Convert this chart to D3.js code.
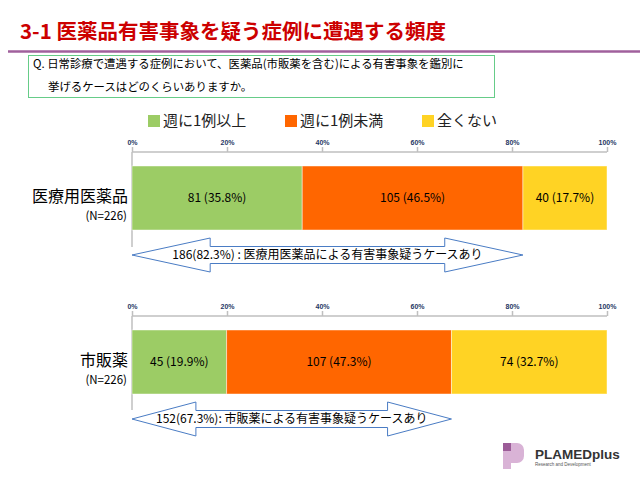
<!DOCTYPE html>
<html><head><meta charset="utf-8">
<script src="https://cdn.jsdelivr.net/npm/d3@7"></script>
<style>
html,body{margin:0;padding:0;background:#fff;}
svg{display:block;font-family:"Noto Sans CJK JP","Noto Sans",sans-serif;}
</style></head>
<body>
<svg id="chart" width="640" height="480"></svg>
<script>
const title = "3-1 医薬品有害事象を疑う症例に遭遇する頻度";
const questionLines = ["Q. 日常診療で遭遇する症例において、医薬品(市販薬を含む)による有害事象を鑑別に", "挙げるケースはどのくらいありますか。"];
const categories = ["週に1例以上", "週に1例未満", "全くない"];
const colors = ["#9ccc65", "#ff6600", "#ffd324"];
const groups = ["医療用医薬品", "市販薬"];
const groupN = ["(N=226)", "(N=226)"];
const seriesA = [81, 105, 40];   // 医療用医薬品
const seriesB = [45, 107, 74];   // 市販薬
const arrowLabels = ["186(82.3%) : 医療用医薬品による有害事象疑うケースあり", "152(67.3%): 市販薬による有害事象疑うケースあり"];
const tickLabels = ["0%", "20%", "40%", "60%", "80%", "100%"];

const svg = d3.select("#chart");

// Title
svg.append("text").attr("x", 20).attr("y", 39).attr("fill", "#cc0000")
  .attr("font-size", 20.5).attr("font-weight", "bold").text(title);
svg.append("line").attr("x1", 8).attr("x2", 640).attr("y1", 51.5).attr("y2", 51.5)
  .attr("stroke", "#a0609c").attr("stroke-width", 2.5);

// Question box
svg.append("rect").attr("x", 28.5).attr("y", 55.5).attr("width", 466).attr("height", 42)
  .attr("fill", "#fff").attr("stroke", "#66cc88").attr("stroke-width", 1);
svg.append("text").attr("x", 33).attr("y", 67.5).attr("font-size", 11.4).attr("fill", "#000").text(questionLines[0]);
svg.append("text").attr("x", 48).attr("y", 91).attr("font-size", 11.4).attr("fill", "#000").text(questionLines[1]);

// Legend
const legendX = [148, 285, 422];
categories.forEach((c, i) => {
  svg.append("rect").attr("x", legendX[i]).attr("y", 115).attr("width", 12).attr("height", 12).attr("fill", colors[i]);
  svg.append("text").attr("x", legendX[i] + 15).attr("y", 121).attr("dy", "0.36em")
    .attr("font-size", 15).attr("fill", "#222").text(c);
});

const x = d3.scaleLinear().domain([0, 1]).range([132, 607]);
const fmtPct = d3.format(".1f");

const panels = [
  {data: seriesA, axisY: 152, barTop: 166, barBottom: 230, axisBottom: 247, arrowY: 255, label: groups[0], n: groupN[0], arrow: arrowLabels[0]},
  {data: seriesB, axisY: 316, barTop: 330, barBottom: 394, axisBottom: 410, arrowY: 419, label: groups[1], n: groupN[1], arrow: arrowLabels[1]}
];

panels.forEach(p => {
  const g = svg.append("g");
  // axis
  const axis = d3.axisTop(x).tickValues([0, .2, .4, .6, .8, 1]).tickSize(5).tickFormat((d, i) => tickLabels[i]);
  const ax = g.append("g").attr("transform", `translate(0,${p.axisY})`).call(axis);
  ax.select(".domain").attr("stroke", "#bfbfbf").attr("stroke-width", 1.5).attr("d", `M${x(0)},0H${x(1)}`);
  ax.selectAll(".tick line").attr("stroke", "#bfbfbf").attr("stroke-width", 1.5);
  ax.selectAll(".tick text").attr("font-size", 7).attr("font-weight", "bold").attr("fill", "#1f3864")
    .attr("font-family", "Liberation Sans, Arial, sans-serif").attr("y", -7);
  g.append("line").attr("x1", x(0)).attr("x2", x(0)).attr("y1", p.axisY).attr("y2", p.axisBottom)
    .attr("stroke", "#bfbfbf").attr("stroke-width", 1.5);

  // stacked bar
  const total = d3.sum(p.data);
  const cum = d3.cumsum(p.data);
  const segs = p.data.map((v, i) => ({v, i, x0: (cum[i] - v) / total, x1: cum[i] / total}));
  g.selectAll("rect.seg").data(segs).join("rect").attr("class", "seg")
    .attr("x", d => x(d.x0)).attr("width", d => x(d.x1) - x(d.x0))
    .attr("y", p.barTop).attr("height", p.barBottom - p.barTop)
    .attr("fill", d => colors[d.i]).attr("stroke", "rgba(255,255,255,0.45)").attr("stroke-width", 1);
  g.selectAll("text.val").data(segs).join("text").attr("class", "val")
    .attr("x", d => (x(d.x0) + x(d.x1)) / 2).attr("y", (p.barTop + p.barBottom) / 2).attr("dy", "0.36em")
    .attr("text-anchor", "middle").attr("font-size", 12).attr("fill", "#000")
    .text(d => `${d.v} (${fmtPct(d.v / total * 100)}%)`);

  // category labels
  const cy = (p.barTop + p.barBottom) / 2;
  g.append("text").attr("x", 128).attr("y", cy - 2).attr("dy", "0.36em").attr("text-anchor", "end")
    .attr("font-size", 16).attr("fill", "#000").text(p.label);
  g.append("text").attr("x", 127).attr("y", cy + 18).attr("dy", "0.36em").attr("text-anchor", "end")
    .attr("font-size", 11.5).attr("fill", "#000").text(p.n);

  // double-headed arrow from 0 to cumulative of first two categories
  const xa = x(0), xb = x(cum[1] / total);
  const head = (xb - xa) * 0.2, hh = 17, sh = 8.5, y0 = p.arrowY;
  const path = d3.path();
  path.moveTo(xa, y0);
  path.lineTo(xa + head, y0 - hh);
  path.lineTo(xa + head, y0 - sh);
  path.lineTo(xb - head, y0 - sh);
  path.lineTo(xb - head, y0 - hh);
  path.lineTo(xb, y0);
  path.lineTo(xb - head, y0 + hh);
  path.lineTo(xb - head, y0 + sh);
  path.lineTo(xa + head, y0 + sh);
  path.lineTo(xa + head, y0 + hh);
  path.closePath();
  g.append("path").attr("d", path.toString()).attr("fill", "#fff").attr("stroke", "#4a7cc4").attr("stroke-width", 1);
  g.append("text").attr("x", (xa + xb) / 2).attr("y", y0).attr("dy", "0.36em").attr("text-anchor", "middle")
    .attr("font-size", 12).attr("fill", "#000").text(p.arrow);
});

// Logo
const logo = svg.append("g");
logo.append("path").attr("d", "M503,443H517A7,7 0 0 1 524,450V456A7,7 0 0 1 517,463H511V469H503Z").attr("fill", "#d9b3d6");
logo.append("rect").attr("x", 503).attr("y", 443).attr("width", 8).attr("height", 8).attr("fill", "#9c5c98");
logo.append("text").attr("x", 535).attr("y", 459).attr("font-size", 13.5).attr("font-weight", "bold")
  .attr("font-family", "Liberation Sans, Arial, sans-serif").attr("fill", "#333").text("PLAMEDplus");
logo.append("text").attr("x", 535).attr("y", 466).attr("font-size", 4.5)
  .attr("font-family", "Liberation Sans, Arial, sans-serif").attr("fill", "#555").text("Research and Development");
</script>
</body></html>
